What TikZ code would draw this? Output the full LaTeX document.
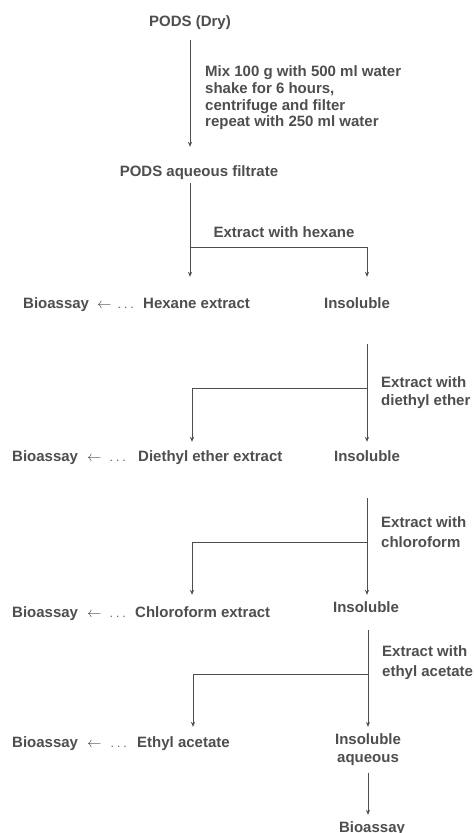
\documentclass[tikz,border=0pt]{standalone}
\usepackage{fontspec}
\setmainfont{Liberation Sans}
\usetikzlibrary{arrows.meta}
\definecolor{ink}{RGB}{78,78,78}
\begin{document}
\begin{tikzpicture}[x=1pt,y=-1pt,
  txt/.style={inner sep=0pt, text height=10.7pt, text depth=0pt, font=\fontsize{15}{17}\selectfont\bfseries, text=ink},
  multi/.style={inner sep=0pt, align=left, text=ink, anchor=north west},
  arr/.style={draw=ink, line width=1pt, -{Stealth[length=5pt,width=4pt]}}]
\path[fill=white,use as bounding box] (0,0) rectangle (474,833);
% nodes
\node[txt] (dry) at (190,21) {PODS (Dry)};
\node[multi, font=\fontsize{15}{16.7}\selectfont\bfseries] (mix) at (205,65.6) {Mix 100 g with 500 ml water\\shake for 6 hours,\\centrifuge and filter\\repeat with 250 ml water};
\node[txt] (filt) at (199,171) {PODS aqueous filtrate};
\node[txt] (hexlab) at (284,232) {Extract with hexane};
\node[txt, anchor=west] (hex) at (143,303) {Hexane extract};
\node[txt, anchor=west] (bio1) at (23,303) {Bioassay\hspace{8pt}$\leftarrow$\hspace{6pt}$\ldots$};
\node[txt] (ins1) at (357,303) {Insoluble};
\node[multi, font=\fontsize{15}{17.6}\selectfont\bfseries] (deelab) at (381,376.6) {Extract with\\diethyl ether};
\node[txt, anchor=west] (dee) at (138,456) {Diethyl ether extract};
\node[txt, anchor=west] (bio2) at (12,456) {Bioassay\hspace{9pt}$\leftarrow$\hspace{8pt}$\ldots$};
\node[txt] (ins2) at (367,456) {Insoluble};
\node[multi, font=\fontsize{15}{20}\selectfont\bfseries] (chllab) at (381,516.6) {Extract with\\chloroform};
\node[txt, anchor=west] (chl) at (135,612) {Chloroform extract};
\node[txt, anchor=west] (bio3) at (12,612) {Bioassay\hspace{9pt}$\leftarrow$\hspace{8pt}$\ldots$};
\node[txt] (ins3) at (366,607) {Insoluble};
\node[multi, font=\fontsize{15}{20}\selectfont\bfseries] (ethlab) at (382,645.4) {Extract with\\ethyl acetate};
\node[txt, anchor=west] (eth) at (137,742) {Ethyl acetate};
\node[txt, anchor=west] (bio4) at (12,742) {Bioassay\hspace{9pt}$\leftarrow$\hspace{9pt}$\ldots$};
\node[inner sep=0pt, align=center, text=ink, anchor=north, font=\fontsize{15}{18}\selectfont\bfseries] (ins4) at (368,733.65) {Insoluble\\aqueous};
\node[txt] (bio5) at (372,827) {Bioassay};
% junctions
\coordinate (j1) at (190,247); \coordinate (j1r) at (367,247);
\coordinate (j2) at (367,388); \coordinate (j2l) at (192,388);
\coordinate (j3) at (367,542); \coordinate (j3l) at (192,542);
\coordinate (j4) at (368,674); \coordinate (j4l) at (193,674);
% connectors
\draw[arr, shorten <=13.6pt, shorten >=18.6pt] (dry.south) -- (dry.south |- filt.north);
\draw[arr, shorten <=6.6pt, shorten >=20.6pt] (j1 |- filt.south) -- (j1 |- hex.north);
\draw[arr, shorten >=20.6pt] (j1) -- (j1r) -- (j1r |- ins1.north);
\draw[arr, shorten <=35.6pt, shorten >=8.6pt] (j2 |- ins1.south) -- (j2 |- ins2.north);
\draw[arr, shorten >=8.6pt] (j2) -- (j2l) -- (j2l |- dee.north);
\draw[arr, shorten <=36.6pt, shorten >=6.6pt] (j3 |- ins2.south) -- (j3 |- ins3.north);
\draw[arr, shorten >=11.6pt] (j3) -- (j3l) -- (j3l |- chl.north);
\draw[arr, shorten <=17.6pt, shorten >=6.7pt] (j4 |- ins3.south) -- (j4 |- ins4.north);
\draw[arr, shorten >=9.6pt] (j4) -- (j4l) -- (j4l |- eth.north);
\draw[arr, shorten <=6.5pt, shorten >=6.6pt] (ins4.south) -- (ins4.south |- bio5.north);
\end{tikzpicture}
\end{document}
